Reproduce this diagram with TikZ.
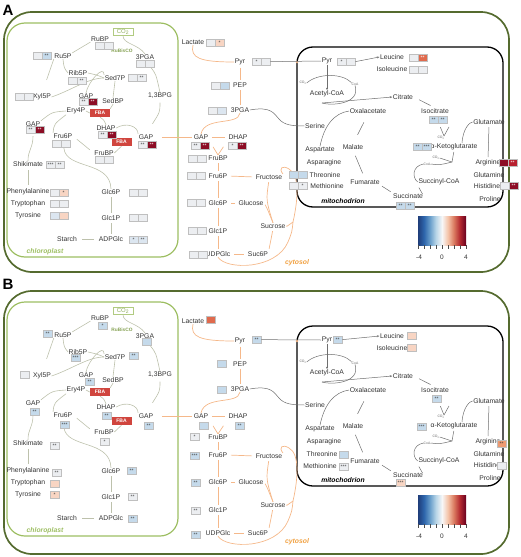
\documentclass[tikz,border=0pt]{standalone}
\usepackage{fontspec}
\setmainfont{Liberation Sans}
\usetikzlibrary{positioning,arrows.meta}

\definecolor{wallG}{HTML}{556B2F}
\definecolor{plastG}{HTML}{9DBE62}
\definecolor{lineC}{HTML}{BDC1AC}
\definecolor{lineO}{HTML}{F5B88A}
\definecolor{lineM}{HTML}{6E6E6E}
\definecolor{fbaR}{HTML}{D0453E}
\definecolor{labO}{HTML}{F0A040}
\definecolor{hLt}{HTML}{ECEEF1}
\definecolor{hLb}{HTML}{DCE6F0}
\definecolor{hBl}{HTML}{C5DAEB}
\definecolor{hPe}{HTML}{F8D5C3}
\definecolor{hDr}{HTML}{8C0D25}
\definecolor{hRd}{HTML}{B8202F}
\definecolor{hOr}{HTML}{E06A4D}
\definecolor{hAr}{HTML}{EE9B72}
\definecolor{cb1}{HTML}{1F3D7A}
\definecolor{cb2}{HTML}{2E66AC}
\definecolor{cb3}{HTML}{6A9FCB}
\definecolor{cb4}{HTML}{B9D6E8}
\definecolor{cb5}{HTML}{F7F7F7}
\definecolor{cb6}{HTML}{F4C3A8}
\definecolor{cb7}{HTML}{D9785F}
\definecolor{cb8}{HTML}{B2282F}
\definecolor{cb9}{HTML}{67001F}

\pgfdeclarehorizontalshading{rdbu}{100bp}{color(0bp)=(cb1); color(25bp)=(cb1); color(31.25bp)=(cb2); color(37.5bp)=(cb3); color(43.75bp)=(cb4); color(50bp)=(cb5); color(56.25bp)=(cb6); color(62.5bp)=(cb7); color(68.75bp)=(cb8); color(75bp)=(cb9); color(100bp)=(cb9)}

\newcommand\hpair[6]{%
  \node[hc,#3] (#1a) at (#2) {#4};
  \node[hc,#5,xshift=9pt] (#1b) at (#2) {#6};}
\newcommand\hone[4]{\node[hc,#3] (#1) at (#2) {#4};}

\newcommand\cellmap[1]{%
  \draw[cellwall] (4,12) rectangle (509,#1);
  \draw[plastid] (7,23) rectangle (178,257);
  \draw[mitowall] (297,47) rectangle (503,207);
  % chloroplast
  \node[co2box] (CO2) at (123,32) {CO\textsubscript{2}};
  \node[met] (RuBP) at (100,39) {RuBP};
  \node[rubis] (RuBisCO) at (122,51) {RuBisCO};
  \node[met] (Ru5P) at (63,56) {Ru5P};
  \node[met] (PGAc) at (145,57) {3PGA};
  \node[met] (Rib5P) at (78,73) {Rib5P};
  \node[met] (Sed7P) at (115,78) {Sed7P};
  \node[met] (Xyl5P) at (42,97) {Xyl5P};
  \node[met] (BPG) at (160,96) {1,3BPG};
  \node[met] (GAPi) at (86,96) {GAP};
  \node[met] (SedBP) at (113,101) {SedBP};
  \node[met] (Ery4P) at (76,111) {Ery4P};
  \node[fba] (FBAa) at (100,113) {FBA};
  \node[met] (GAPl) at (33,124) {GAP};
  \node[met] (Fru6Pc) at (63,136) {Fru6P};
  \node[met] (DHAPc) at (106,128) {DHAP};
  \node[fba] (FBAb) at (121.5,142) {FBA};
  \node[met] (GAPr) at (146,137) {GAP};
  \node[met] (FruBPc) at (104,153) {FruBP};
  \node[met] (Shikimate) at (28,164) {Shikimate};
  \node[met] (Phe) at (28,192) {Phenylalanine};
  \node[met] (Trp) at (28,204) {Tryptophan};
  \node[met] (Tyr) at (28,216) {Tyrosine};
  \node[met] (Glc6Pc) at (111,192) {Glc6P};
  \node[met] (Glc1Pc) at (111,218) {Glc1P};
  \node[met] (Starch) at (67,239) {Starch};
  \node[met] (ADPGlc) at (111,239) {ADPGlc};
  \node[plastlab] (chloro) at (45,252) {chloroplast};
  % cytosol
  \node[met] (Lactate) at (193,42) {Lactate};
  \node[met] (Pyr) at (240,62) {Pyr};
  \node[met] (PEP) at (240,85) {PEP};
  \node[met] (PGA) at (240,110) {3PGA};
  \node[met] (GAPy) at (201,137) {GAP};
  \node[met] (DHAPy) at (238,137) {DHAP};
  \node[met] (FruBP) at (218,158) {FruBP};
  \node[met] (Fru6P) at (218,176) {Fru6P};
  \node[met] (Fructose) at (269,177) {Fructose};
  \node[met] (Glc6P) at (218,203) {Glc6P};
  \node[met] (Glucose) at (251,203) {Glucose};
  \node[met] (Sucrose) at (273,226) {Sucrose};
  \node[met] (Glc1P) at (218,231) {Glc1P};
  \node[met] (UDPGlc) at (218,254) {UDPGlc};
  \node[met] (Suc6P) at (258,254) {Suc6P};
  \node[cytolab] (cyto) at (297,263) {cytosol};
  % mitochondrion
  \node[met] (mPyr) at (327,61) {Pyr};
  \node[met] (Leucine) at (392,57) {Leucine};
  \node[met] (Isoleucine) at (392,69) {Isoleucine};
  \node[cofac] (co2a) at (303,83) {CO\textsubscript{2}};
  \node[cofac] (coaa) at (355,84) {CoA};
  \node[met] (AcCoA) at (327,94) {Acetyl-CoA};
  \node[met] (Citrate) at (403,97) {Citrate};
  \node[met] (OAA) at (368,111) {Oxalacetate};
  \node[met] (Isocitrate) at (435,111) {Isocitrate};
  \node[met] (Serine) at (315,126) {Serine};
  \node[met] (Glutamate) at (489,122) {Glutamate};
  \node[cofac] (co2b) at (441,138) {CO\textsubscript{2}};
  \node[met] (Malate) at (353,147) {Malate};
  \node[met] (Aspartate) at (320,150) {Aspartate};
  \node[met] (aKG) at (454,147) {α-Ketoglutarate};
  \node[met] (Arginine) at (488,163) {Arginine};
  \node[met] (Asparagine) at (324,163) {Asparagine};
  \node[cofac] (co2c) at (436,158) {CO\textsubscript{2}};
  \node[cofac] (coac) at (427,164) {CoA};
  \node[met] (Glutamine) at (489,175) {Glutamine};
  \node[met] (Fumarate) at (365,182) {Fumarate};
  \node[met] (SucCoA) at (439,182) {Succinyl-CoA};
  \node[met] (Histidine) at (487,186) {Histidine};
  \node[met] (Succinate) at (408,196) {Succinate};
  \node[met] (Proline) at (490,199) {Proline};
  \node[mitolab] (mitolab) at (343,201) {mitochodrion};
  % Calvin cycle and starch
  \draw[cl] (CO2.south) .. controls (123,44) and (138,44) .. (PGAc.north);
  \draw[cl] (Ru5P.north east) -- (RuBP.south west);
  \draw[cl] (Ru5P.south) .. controls (64,68) .. (Rib5P.west);
  \draw[cl,shorten >=14pt] (Ru5P.south west) -- (Xyl5P.north);
  \draw[cl] (Rib5P.east) .. controls (97,75) .. (Sed7P.west);
  \draw[cl] (Xyl5P.east) .. controls (72,90) and (88,78) .. (Sed7P.west);
  \draw[cl] (GAPi.north) .. controls (88,82) and (104,64) .. (Sed7P.north west);
  \draw[cl] (SedBP.north) -- (Sed7P.south);
  \draw[cl] (Ery4P.east) -- (FBAa.west);
  \draw[cl] (FBAa.north east) -- (SedBP.south);
  \draw[cl] (DHAPc.north) .. controls (104,120) .. (FBAa.south);
  \draw[cl] (Ery4P.west) .. controls (52,112) .. (GAPl.north east);
  \draw[cl] (Fru6Pc.north west) .. controls (54,124) .. (Ery4P.south west);
  \draw[cl] (DHAPc.east) .. controls (126,122) and (138,126) .. (GAPr.north west);
  \draw[cl] (FBAb.south) -- (FruBPc.east);
  \draw[cl,shorten <=5pt,shorten >=5pt] (FruBPc.west) -- (Fru6Pc.east);
  \draw[cl,shorten <=9pt] (PGAc.south) .. controls (156,74) .. (BPG.north);
  \draw[cl,shorten <=3pt,shorten >=12pt] (BPG.south) .. controls (160,112) .. (GAPr.north);
  \draw[cl,shorten <=9pt] (Fru6Pc.south) .. controls (66,170) and (110,160) .. (Glc6Pc.north);
  \draw[cl,shorten <=2pt,shorten >=2pt] (Glc6Pc.south) -- (Glc1Pc.north);
  \draw[cl,shorten <=2pt,shorten >=2pt] (Glc1Pc.south) -- (ADPGlc.north);
  \draw[cl,shorten <=4pt,shorten >=4pt] (ADPGlc.west) -- (Starch.east);
  \draw[cl,shorten <=9pt] (GAPl.south) .. controls (33,148) and (28,150) .. (Shikimate.north);
  \draw[cl,shorten <=3pt,shorten >=3pt] (Shikimate.south) -- (Phe.north);
  % cytosol
  \draw[co,shorten <=8pt,shorten >=1pt] (GAPr.east) -- (GAPy.west);
  \draw[co] (Lactate.south) .. controls (190,58) and (200,62) .. (Pyr.west);
  \draw[co,shorten <=2pt,shorten >=2pt] (Pyr.south) -- (PEP.north);
  \draw[co,shorten <=2pt,shorten >=2pt] (PEP.south) -- (PGA.north);
  \draw[co] (PGA.south) .. controls (238,126) and (205,116) .. (GAPy.north);
  \draw[co,shorten <=3pt,shorten >=3pt] (GAPy.east) -- (DHAPy.west);
  \draw[co,shorten <=8pt] (GAPy.south east) -- (FruBP.north);
  \draw[co,shorten <=8pt] (DHAPy.south west) -- (FruBP.north);
  \draw[co,shorten <=2pt,shorten >=2pt] (FruBP.south) -- (Fru6P.north);
  \draw[co,shorten <=2pt,shorten >=2pt] (Fru6P.south) -- (Glc6P.north);
  \draw[co,shorten <=2pt,shorten >=2pt] (Glc6P.south) -- (Glc1P.north);
  \draw[co,shorten <=2pt,shorten >=2pt] (Glc1P.south) -- (UDPGlc.north);
  \draw[co,shorten <=3pt,shorten >=3pt] (Fructose.west) -- (Fru6P.east);
  \draw[co,shorten <=3pt,shorten >=3pt] (Glucose.west) -- (Glc6P.east);
  \draw[co,shorten <=3pt,shorten >=3pt] (UDPGlc.east) -- (Suc6P.west);
  \draw[co,shorten <=2pt,shorten >=2pt] (Suc6P.north east) -- (Sucrose.south);
  \draw[co,shorten <=2pt] (Fructose.south) .. controls (266,200) .. (Sucrose.north);
  \draw[co,shorten <=2pt] (Glucose.east) .. controls (267,208) .. (Sucrose.north);
  \coordinate (loopR) at (293,222);
  \draw[co] (UDPGlc.south) .. controls (226,270) and (276,270) .. (288,242) .. controls (292,232) .. (loopR) .. controls (298,200) and (300,175) .. (289,169) .. controls (283,165) and (278,168) .. (Fructose.north east);
  \draw[co] (Sucrose.east) .. controls (286,227) .. (loopR);
  \fill[lineO] (297,62) circle (1.4);
  % mitochondrion
  \draw[ml] (PGA.east) .. controls (272,106) and (274,114) .. (279,119) .. controls (284,125) and (292,126) .. (Serine.west);
  \draw[ml,-{Stealth[length=2.5pt,width=2pt]}] (mPyr.south) -- (AcCoA.north);
  \draw[ml] (co2a.east) .. controls (318,73) and (342,73) .. (coaa.north west);
  \coordinate (accj) at (322,103);
  \draw[ml] (coaa.south) .. controls (361,104) and (332,106) .. (accj);
  \draw[ml,-{Stealth[length=2.5pt,width=2pt]}] (accj) -- (Citrate.west);
  \draw[ml,shorten <=6pt,shorten >=5pt] (Citrate.east) -- (Isocitrate.north);
  \coordinate (icj) at (444,136);
  \coordinate (ico) at (449,127);
  \draw[ml,shorten <=14pt] (Isocitrate.south) -- (icj);
  \draw[ml] (icj) -- (ico);
  \draw[ml] (Glutamate.west) .. controls (470,122) and (463,128) .. ([xshift=8pt]aKG.north);
  \draw[ml,shorten <=2pt,shorten >=2pt] (Glutamate.south) -- (Arginine.north);
  \coordinate (akj) at (452,162);
  \draw[ml,shorten <=1pt] (aKG.south) -- (akj);
  \draw[ml] (co2c.east) -- (akj);
  \draw[ml] (coac.east) .. controls (440,165) .. (akj);
  \draw[ml] (coac.west) .. controls (412,166) and (412,178) .. (SucCoA.west);
  \draw[ml,shorten <=2pt,shorten >=2pt] (SucCoA.south west) -- (Succinate.east);
  \draw[ml,shorten <=2pt,shorten >=2pt] (Succinate.north west) -- (Fumarate.south east);
  \draw[ml,shorten <=6pt,shorten >=6pt] (Malate.south) -- (Fumarate.north);
  \draw[ml,shorten <=10pt,shorten >=9pt] (Malate.north) -- (OAA.south);
  \draw[ml] (OAA.west) .. controls (334,113) and (324,126) .. (Aspartate.north);
  % colour key
  \shade[shading=rdbu] (418,216) rectangle (466,245);
  \foreach \t in {0,...,8} \draw[black!70,line width=0.4pt] (418+6*\t,245) -- (418+6*\t,249);
  \node[ticklab] (kmin) at (419,257) {-4};
  \node[ticklab] (kmid) at (442,257) {0};
  \node[ticklab] (kmax) at (466,257) {4};
}

\begin{document}
\begin{tikzpicture}[x=1pt,y=-1pt,
  met/.style={font=\fontsize{6.8}{7}\selectfont,text=black!80,inner sep=0.5pt},
  cofac/.style={font=\fontsize{3.4}{3.4}\selectfont,text=black!60,inner sep=0pt},
  panel/.style={font=\bfseries\fontsize{15}{15}\selectfont,inner sep=0pt},
  co2box/.style={draw=plastG!80,line width=0.5pt,text=plastG!90!black,font=\fontsize{6}{6}\selectfont,minimum width=20pt,minimum height=7pt,inner sep=0.5pt},
  rubis/.style={font=\bfseries\fontsize{4.8}{5}\selectfont,text=plastG!85!black,inner sep=0pt},
  fba/.style={fill=fbaR,text=white,font=\bfseries\fontsize{5}{5}\selectfont,minimum width=20pt,minimum height=8pt,inner sep=0pt},
  plastlab/.style={font=\bfseries\itshape\fontsize{6.8}{7}\selectfont,text=plastG},
  cytolab/.style={font=\bfseries\itshape\fontsize{6.8}{7}\selectfont,text=labO},
  mitolab/.style={font=\bfseries\itshape\fontsize{6.8}{7}\selectfont,text=black},
  ticklab/.style={font=\fontsize{6.5}{7}\selectfont,text=black!80,inner sep=0pt},
  cellwall/.style={draw=wallG,line width=1.7pt,rounded corners=28pt},
  plastid/.style={draw=plastG,line width=1.2pt,rounded corners=18pt},
  mitowall/.style={draw=black,line width=1.3pt,rounded corners=16pt},
  cl/.style={draw=lineC,line width=0.6pt},
  co/.style={draw=lineO,line width=0.7pt},
  ml/.style={draw=lineM,line width=0.5pt},
  hc/.style={draw=black!25,line width=0.3pt,minimum width=9pt,minimum height=7pt,inner sep=0pt,anchor=north west,font=\fontsize{5}{4}\selectfont,text=black!75},
  cLt/.style={fill=hLt},
  cLb/.style={fill=hLb},
  cBl/.style={fill=hBl},
  cPe/.style={fill=hPe},
  cDr/.style={fill=hDr,text=white},
  cRd/.style={fill=hRd,text=white},
  cOr/.style={fill=hOr,text=white},
  cAr/.style={fill=hAr}]
\useasboundingbox (0,0) rectangle (520,557);

\begin{scope}[name prefix=A-]
  \cellmap{272}
  \node[panel] (tag) at (8,10) {A};
  \node[met] (Threonine) at (325,175) {Threonine};
  \node[met] (Methionine) at (327,186) {Methionine};
  \hpair{hRuBP}{95,42}{cLt}{}{cLt}{}
  \hpair{hRu5P}{33,52}{cLt}{}{cBl}{**}
  \hpair{hPGAc}{136,60}{cLt}{}{cLt}{}
  \hpair{hRib5P}{68,77}{cLt}{}{cLt}{**}
  \hpair{hSed7P}{128,74}{cLt}{}{cLt}{**}
  \hpair{hXyl5P}{15,93}{cLt}{}{cLt}{}
  \hpair{hGAPi}{79,98}{cLt}{**}{cDr}{**}
  \hpair{hGAPl}{26,126}{cLt}{**}{cDr}{**}
  \hpair{hFru6Pc}{52,140}{cLt}{}{cLt}{}
  \hpair{hDHAPc}{98,131}{cLt}{**}{cDr}{**}
  \hpair{hGAPr}{138,141}{cLt}{**}{cDr}{**}
  \hpair{hFruBPc}{95,156}{cLt}{}{cLt}{}
  \hpair{hShik}{46,161}{cLt}{***}{cLt}{**}
  \hpair{hPhe}{50,189}{cLt}{}{cPe}{*}
  \hpair{hTrp}{50,200}{cLt}{}{cLt}{}
  \hpair{hTyr}{50,212}{cLb}{}{cPe}{}
  \hpair{hGlc6Pc}{129,189}{cLt}{}{cLt}{}
  \hpair{hGlc1Pc}{129,214}{cLt}{}{cLt}{}
  \hpair{hADPGlc}{129,236}{cLb}{*}{cLb}{**}
  \hpair{hLac}{206,39}{cLt}{}{cPe}{*}
  \hpair{hPyr}{252,58}{cLt}{*}{cLt}{}
  \hpair{hPEP}{211,82}{cLt}{}{cBl}{}
  \hpair{hPGA}{208,107}{cLt}{}{cLb}{}
  \hpair{hGAPy}{191,142}{cLt}{**}{cDr}{**}
  \hpair{hDHAPy}{228,142}{cLt}{*}{cDr}{**}
  \hpair{hFruBP}{188,155}{cLt}{}{cLt}{}
  \hpair{hFru6P}{187,172}{cLt}{}{cLt}{}
  \hpair{hGlc6P}{187,199}{cLt}{}{cLt}{}
  \hpair{hGlc1P}{188,227}{cLt}{}{cLt}{}
  \hpair{hUDPGlc}{189,251}{cLt}{}{cLt}{}
  \hpair{hThr}{289,171}{cBl}{}{cBl}{}
  \hpair{hMet}{289,182}{cLt}{}{cLt}{*}
  \hpair{hmPyr}{337,58}{cLt}{*}{cLt}{}
  \hpair{hLeu}{409,54}{cLt}{}{cOr}{**}
  \hpair{hIle}{409,66}{cLt}{}{cLt}{}
  \hpair{hIcit}{429,116}{cBl}{**}{cBl}{**}
  \hpair{haKG}{413,143}{cBl}{**}{cBl}{***}
  \hpair{hArg}{499,159}{cDr}{}{cRd}{**}
  \hpair{hHis}{500,182}{cLt}{}{cDr}{**}
  \hpair{hSuc}{396,202}{cBl}{**}{cBl}{**}
  \draw[ml] (hPyrb.east) -- (mPyr.west);
  \draw[ml,-{Stealth[length=2.5pt,width=2pt]}] (hmPyrb.east) -- (Leucine.west);
\end{scope}

\begin{scope}[shift={(0,279)},name prefix=B-]
  \cellmap{275}
  \node[panel] (tag) at (8,5) {B};
  \node[met] (Threonine) at (322,175) {Threonine};
  \node[met] (Methionine) at (320,187) {Methionine};
  \hone{hRuBP}{98,43}{cBl}{*}
  \hone{hRu5P}{43,51}{cBl}{**}
  \hone{hPGAc}{142,59}{cBl}{}
  \hone{hRib5P}{71,75}{cBl}{***}
  \hone{hSed7P}{129,73}{cBl}{**}
  \hone{hXyl5P}{20,92}{cLt}{}
  \hone{hGAPi}{85,99}{cBl}{**}
  \hone{hGAPl}{30,129}{cBl}{**}
  \hone{hFru6Pc}{60,142}{cBl}{***}
  \hone{hDHAPc}{102,133}{cBl}{**}
  \hone{hGAPr}{144,143}{cBl}{**}
  \hone{hFruBPc}{100,159}{cLt}{*}
  \hone{hShik}{50,163}{cLt}{**}
  \hone{hPhe}{52,190}{cLt}{**}
  \hone{hTrp}{50,201}{cPe}{}
  \hone{hTyr}{50,212}{cPe}{*}
  \hone{hGlc6Pc}{127,188}{cBl}{**}
  \hone{hGlc1Pc}{128,214}{cLt}{**}
  \hone{hADPGlc}{128,236}{cBl}{**}
  \hone{hLac}{206,37}{cOr}{}
  \hone{hPyr}{252,57}{cBl}{**}
  \hone{hPEP}{217,81}{cBl}{}
  \hone{hPGA}{217,107}{cBl}{}
  \hone{hGAPy}{199,143}{cBl}{}
  \hone{hDHAPy}{235,143}{cBl}{**}
  \hone{hFruBP}{190,154}{cLt}{*}
  \hone{hFru6P}{190,173}{cBl}{***}
  \hone{hGlc6P}{191,200}{cBl}{**}
  \hone{hGlc1P}{191,228}{cLt}{**}
  \hone{hUDPGlc}{191,252}{cBl}{**}
  \hone{hThr}{339,172}{cBl}{}
  \hone{hMet}{339,184}{cLt}{***}
  \hone{hmPyr}{333,57}{cBl}{**}
  \hone{hLeu}{407,53}{cPe}{}
  \hone{hIle}{407,65}{cPe}{}
  \hone{hIcit}{432,116}{cBl}{**}
  \hone{haKG}{417,144}{cBl}{***}
  \hone{hArg}{497,161}{cAr}{**}
  \hone{hHis}{497,183}{cLt}{}
  \hone{hSuc}{396,200}{cPe}{***}
  \draw[ml] (hPyr.east) -- (mPyr.west);
  \draw[ml,-{Stealth[length=2.5pt,width=2pt]}] (hmPyr.east) -- (Leucine.west);
\end{scope}
\end{tikzpicture}
\end{document}
